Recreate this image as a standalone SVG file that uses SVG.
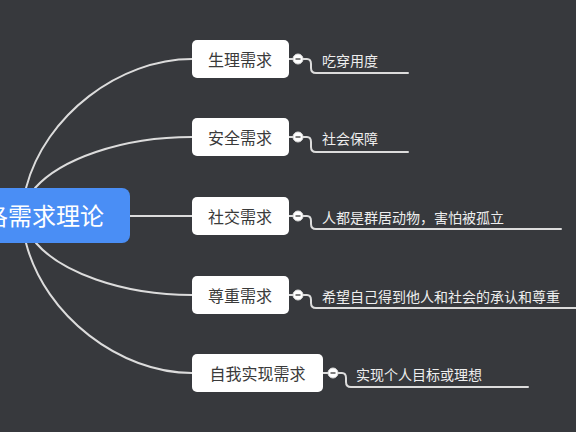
<svg xmlns="http://www.w3.org/2000/svg" width="576" height="432" viewBox="0 0 576 432">
<style>
.bg{fill:#37393d}
.topic{fill:#ffffff}
.tt{font-family:"Noto Sans CJK SC","Noto Sans",sans-serif;font-size:16px;fill:#3a3a3a;text-anchor:middle}
.st{font-family:"Noto Sans CJK SC","Noto Sans",sans-serif;font-size:14px;fill:#eeeeee}
.ln{fill:none;stroke:#dcdcdc;stroke-width:2;stroke-linecap:round}
.col{fill:#ffffff;stroke:#dcdcdc;stroke-width:1}
.minus{stroke:#555;stroke-width:1.5}
</style>
<rect class="bg" x="0" y="0" width="576" height="432"/>
<g id="connectors">
<path class="ln" d="M26 188 C45 115 120 59 192 59"/>
<path class="ln" d="M35 188 C60 160 120 137 192 137"/>
<path class="ln" d="M130 216 L192 216"/>
<path class="ln" d="M36 243 C60 271 120 295 192 295"/>
<path class="ln" d="M26 243 C45 316 120 373 192 373"/>
<path class="ln" d="M289 59 H293 M303 59 H307 Q311 59 311 64 V68 Q311 73 316 73 H408"/>
<path class="ln" d="M289 137 H293 M303 137 H307 Q311 137 311 142 V147 Q311 152 316 152 H408"/>
<path class="ln" d="M289 216 H293 M303 216 H307 Q311 216 311 221 V224 Q311 229 316 229 H561"/>
<path class="ln" d="M289 295 H293 M303 295 H307 Q311 295 311 300 V303 Q311 308 316 308 H577"/>
<path class="ln" d="M323 373 H328 M338 373 H342 Q346 373 346 378 V382 Q346 387 351 387 H528"/>
</g>
<g id="root">
<rect x="-20" y="188" width="150" height="55" rx="8" fill="#4a8ef5"/>
<text x="104" y="225" font-family="Noto Sans CJK SC,Noto Sans,sans-serif" font-size="24" fill="#ffffff" text-anchor="end">洛需求理论</text>
</g>
<g id="n1">
<rect class="topic" x="192" y="40" width="97" height="38" rx="5"/>
<text class="tt" x="240" y="65.5">生理需求</text>
<circle class="col" cx="298" cy="59" r="5"/><line class="minus" x1="295.5" y1="59" x2="300.5" y2="59"/>
<text class="st" x="322" y="66">吃穿用度</text>
</g>
<g id="n2">
<rect class="topic" x="192" y="118" width="97" height="38" rx="5"/>
<text class="tt" x="240" y="143.5">安全需求</text>
<circle class="col" cx="298" cy="137" r="5"/><line class="minus" x1="295.5" y1="137" x2="300.5" y2="137"/>
<text class="st" x="322" y="144">社会保障</text>
</g>
<g id="n3">
<rect class="topic" x="192" y="197" width="97" height="38" rx="5"/>
<text class="tt" x="240" y="222.5">社交需求</text>
<circle class="col" cx="298" cy="216" r="5"/><line class="minus" x1="295.5" y1="216" x2="300.5" y2="216"/>
<text class="st" x="322" y="223">人都是群居动物，害怕被孤立</text>
</g>
<g id="n4">
<rect class="topic" x="192" y="276" width="97" height="38" rx="5"/>
<text class="tt" x="240" y="301.5">尊重需求</text>
<circle class="col" cx="298" cy="295" r="5"/><line class="minus" x1="295.5" y1="295" x2="300.5" y2="295"/>
<text class="st" x="322" y="302">希望自己得到他人和社会的承认和尊重</text>
</g>
<g id="n5">
<rect class="topic" x="192" y="354" width="131" height="38" rx="5"/>
<text class="tt" x="257.5" y="379.5">自我实现需求</text>
<circle class="col" cx="333" cy="373" r="5"/><line class="minus" x1="330.5" y1="373" x2="335.5" y2="373"/>
<text class="st" x="356" y="380">实现个人目标或理想</text>
</g>
</svg>
